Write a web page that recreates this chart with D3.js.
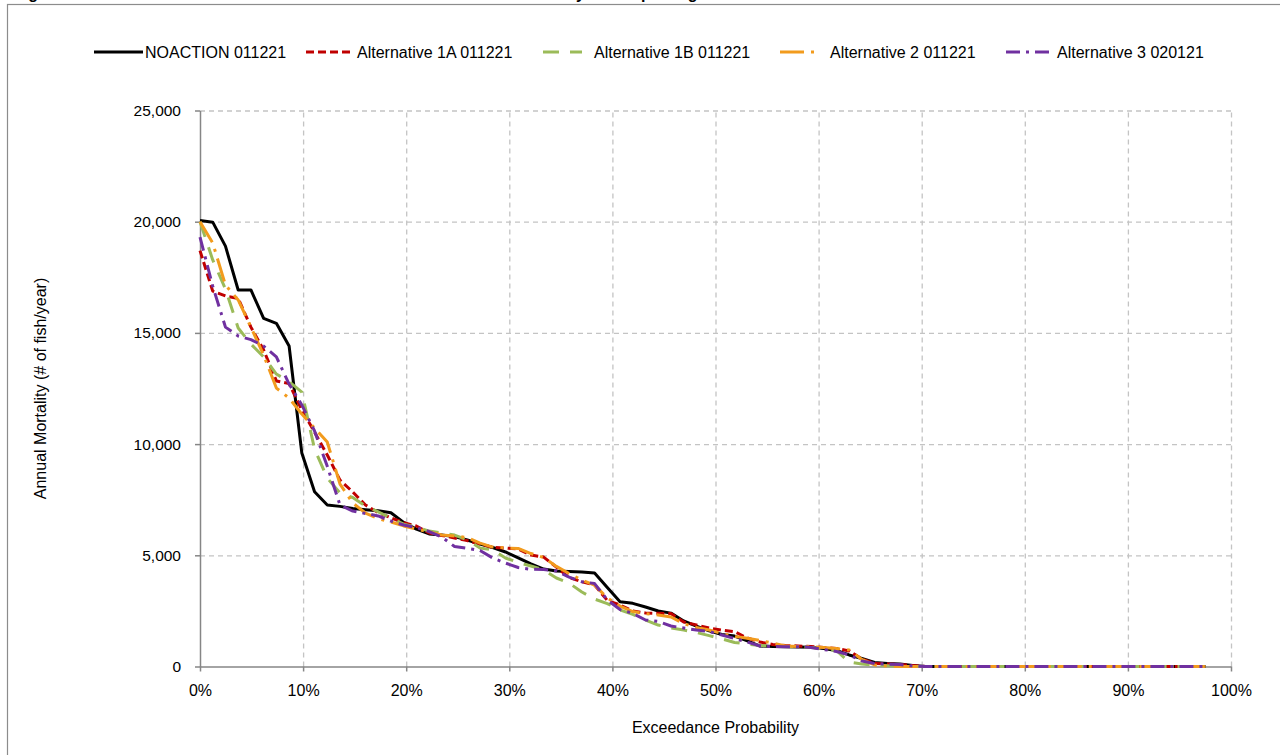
<!DOCTYPE html>
<html>
<meta charset="utf-8">

<head>
    <style>
        body {
            margin: 0;
            background: #fff;
        }

        svg {
            display: block;
            font-family: "Liberation Sans", Arial, sans-serif;
        }

        .axis path,
        .axis line {
            fill: none;
            stroke: #868686;
            stroke-width: 1.5px;
        }

        .axis text {
            font-size: 15.5px;
            fill: #000;
        }

        .grid line {
            stroke: #c4c4c4;
            stroke-width: 1.3px;
            stroke-dasharray: 5, 4;
        }

        .grid path {
            display: none;
        }
    </style>
</head>

<body>
    <div id="chart"></div>
    <script src="https://d3js.org/d3.v7.min.js"></script>

    <script>
        // series names (legend order)
        const seriesNames = ["NOACTION 011221", "Alternative 1A 011221", "Alternative 1B 011221",
            "Alternative 2 011221", "Alternative 3 020121"];

        // annual mortality (# of fish/year), sorted high to low, 80 years each
        const noAction = [20050, 19980, 18900, 16930, 16930, 15650, 15430, 14410, 9600, 7860,
            7260, 7200, 7100, 7050, 7000, 6910, 6480, 6180, 5960, 5910,
            5840, 5690, 5510, 5350, 5150, 4880, 4610, 4380, 4290, 4270,
            4250, 4200, 3550, 2910, 2840, 2675, 2495, 2400, 2045, 1820,
            1600, 1440, 1370, 1150, 920, 900, 890, 880, 865, 810,
            720, 520, 360, 180, 135, 110, 50, 0, 0, 0,
            0, 0, 0, 0, 0, 0, 0, 0, 0, 0,
            0, 0, 0, 0, 0, 0, 0, 0, 0, 0];
        const alt1A = [18700, 16880, 16660, 16550, 15260, 14230, 12840, 12720, 11530, 10540,
            9510, 8380, 7850, 7260, 6920, 6680, 6470, 6320, 6000, 5890,
            5780, 5660, 5510, 5350, 5330, 5280, 5010, 4920, 4470, 4000,
            3810, 3660, 2970, 2765, 2495, 2405, 2390, 2380, 2000, 1865,
            1730, 1630, 1565, 1280, 1100, 990, 945, 920, 900, 855,
            810, 700, 340, 135, 110, 90, 40, 0, 0, 0,
            0, 0, 0, 0, 0, 0, 0, 0, 0, 0,
            0, 0, 0, 0, 0, 0, 0, 0, 0, 0];
        const alt1B = [20000, 18280, 16970, 15220, 14500, 13920, 13150, 12810, 12340, 9780,
            8470, 7800, 7600, 7220, 6950, 6680, 6400, 6270, 6090, 6000,
            5910, 5690, 5330, 5240, 4880, 4680, 4520, 4340, 3980, 3750,
            3350, 3030, 2830, 2540, 2340, 2090, 1865, 1730, 1640, 1530,
            1390, 1240, 1080, 1010, 945, 920, 900, 875, 855, 810,
            720, 200, 110, 60, 30, 10, 0, 0, 0, 0,
            0, 0, 0, 0, 0, 0, 0, 0, 0, 0,
            0, 0, 0, 0, 0, 0, 0, 0, 0, 0];
        const alt2 = [20000, 19040, 17150, 16480, 15260, 14000, 12520, 12070, 11350, 10720,
            10090, 8200, 7350, 6900, 6650, 6500, 6320, 6180, 6050, 5910,
            5870, 5800, 5550, 5370, 5330, 5310, 5080, 4900, 4500, 4180,
            3890, 3660, 3080, 2720, 2470, 2380, 2315, 2225, 1930, 1750,
            1640, 1480, 1350, 1270, 1170, 1055, 920, 900, 890, 855,
            810, 740, 315, 70, 20, 0, 0, 0, 0, 0,
            0, 0, 0, 0, 0, 0, 0, 0, 0, 0,
            0, 0, 0, 0, 0, 0, 0, 0, 0, 0];
        const alt3 = [19310, 17100, 15260, 14860, 14700, 14410, 13920, 12700, 11760, 10590,
            9000, 7260, 6990, 6880, 6770, 6540, 6360, 6250, 6070, 5820,
            5395, 5315, 5215, 4880, 4650, 4450, 4370, 4360, 4290, 4020,
            3810, 3730, 2990, 2560, 2390, 2090, 2025, 1820, 1730, 1640,
            1570, 1415, 1260, 1100, 920, 900, 890, 890, 855, 765,
            675, 520, 250, 135, 110, 90, 20, 0, 0, 0,
            0, 0, 0, 0, 0, 0, 0, 0, 0, 0,
            0, 0, 0, 0, 0, 0, 0, 0, 0, 0];

        const yTicks = [0, 5000, 10000, 15000, 20000, 25000];
        const xTicks = [0, 0.1, 0.2, 0.3, 0.4, 0.5, 0.6, 0.7, 0.8, 0.9, 1.0];

        const allSeries = [noAction, alt1A, alt1B, alt2, alt3];
        const colors = ["#000000", "#c00000", "#9bbb59", "#f29b1d", "#7030a0"];
        const dashes = [null, "8,4", "16,11", "24,7,3,7", "14,6,3,6"];

        // plotting position: rank / (n + 1)
        const nYears = noAction.length;
        const exceedance = noAction.map(function (d, i) { return i / (nYears + 1); });

        // set the dimensions of the canvas
        var W = 1280, H = 755;
        var margin = { top: 110.5, left: 200, right: 49, bottom: 88.5 },
            width = W - margin.left - margin.right,
            height = H - margin.top - margin.bottom;

        var x = d3.scaleLinear().domain([0, 1]).range([0, width]);
        var y = d3.scaleLinear().domain([0, 25000]).range([height, 0]);

        var svgRoot = d3.select("#chart")
            .append("svg")
            .attr("width", W)
            .attr("height", H);

        // chart frame
        svgRoot.append("rect")
            .attr("x", 7.5).attr("y", 4.5)
            .attr("width", W + 20).attr("height", H + 20)
            .attr("fill", "none")
            .attr("stroke", "#8c8c8c")
            .attr("stroke-width", 1.2);

        // title, cut off by the top of the picture (only descenders show)
        var title = svgRoot.append("text")
            .attr("y", -1)
            .attr("font-size", 16).attr("font-weight", "bold");
        title.append("tspan").attr("x", 14).text("Figure 11. Annual Salmon Entrainment at Delta Facilities Estimated b");
        title.append("tspan").attr("x", 576).text("y Sam");
        title.append("tspan").attr("x", 641).text("pli");
        title.append("tspan").attr("x", 678).text("ng");

        var svg = svgRoot.append("g")
            .attr("transform", "translate(" + margin.left + "," + margin.top + ")");

        // gridlines
        svg.append("g")
            .attr("class", "grid")
            .call(d3.axisLeft(y).tickValues(yTicks.slice(1)).tickSize(-width).tickFormat(""));
        svg.append("g")
            .attr("class", "grid")
            .attr("transform", "translate(0," + height + ")")
            .call(d3.axisBottom(x).tickValues(xTicks.slice(1)).tickSize(-height).tickFormat(""));

        // axes
        svg.append("g")
            .attr("class", "axis")
            .call(d3.axisLeft(y).tickValues(yTicks).tickSize(5).tickSizeOuter(0).tickPadding(14)
                .tickFormat(d3.format(",")));
        svg.append("g")
            .attr("class", "axis")
            .attr("transform", "translate(0," + height + ")")
            .call(d3.axisBottom(x).tickValues(xTicks).tickSize(5).tickSizeOuter(0).tickPadding(13)
                .tickFormat(d3.format(".0%")))
            .selectAll("text").style("font-size", "16px");

        // axis titles
        svg.append("text")
            .attr("x", x(0.5)).attr("y", height + 66)
            .attr("text-anchor", "middle")
            .attr("font-size", 16)
            .text("Exceedance Probability");
        svg.append("text")
            .attr("transform", "translate(-154," + (height / 2) + ") rotate(-90)")
            .attr("text-anchor", "middle")
            .attr("font-size", 16)
            .text("Annual Mortality (# of fish/year)");

        // lines
        var line = d3.line()
            .x(function (d, i) { return x(exceedance[i]); })
            .y(function (d) { return y(d); });

        allSeries.forEach(function (s, k) {
            svg.append("path")
                .datum(s)
                .attr("fill", "none")
                .attr("stroke", colors[k])
                .attr("stroke-width", 3)
                .attr("stroke-linejoin", "round")
                .attr("stroke-dasharray", dashes[k])
                .attr("d", line);
        });

        // legend
        const legendX = [94, 306, 543, 780, 1006];
        const legendLen = [49, 47, 39, 40, 47];
        const legendTextX = [145, 357, 594, 830, 1057];
        var legend = svgRoot.append("g").attr("transform", "translate(0,52)");
        seriesNames.forEach(function (name, k) {
            legend.append("line")
                .attr("x1", legendX[k]).attr("x2", legendX[k] + legendLen[k])
                .attr("stroke", colors[k])
                .attr("stroke-width", 3)
                .attr("stroke-dasharray", dashes[k]);
            legend.append("text")
                .attr("x", legendTextX[k])
                .attr("dy", "0.35em")
                .attr("font-size", 16)
                .text(name);
        });
    </script>

</body>

</html>
